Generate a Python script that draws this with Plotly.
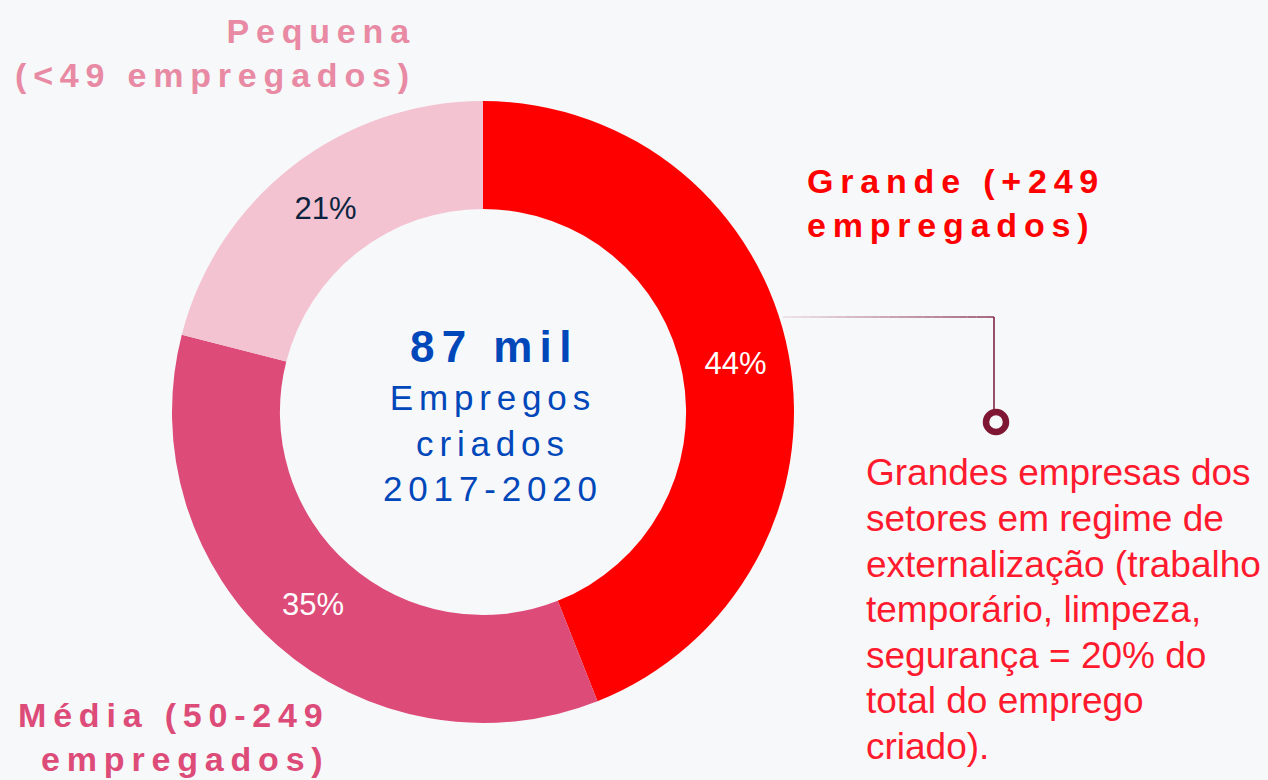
import plotly.graph_objects as go

# ---- data ----
categories = ["Grande (+249 empregados)", "Média (50-249 empregados)", "Pequena (<49 empregados)"]
shares = [44, 35, 21]
slice_colors = ["#FF0000", "#DD4B78", "#F3C3D1"]
pct_text_colors = ["#FFFFFF", "#FFFFFF", "#0C2340"]

center_big = "87 mil"
center_lines = ["Empregos", "criados", "2017-2020"]
label_grande = ["Grande (+249", "empregados)"]
label_media = ["Média (50-249", "empregados)"]
label_pequena = ["Pequena", "(<49 empregados)"]
note_lines = ["Grandes empresas dos", "setores em regime de", "externalização (trabalho",
              "temporário, limpeza,", "segurança = 20% do", "total do emprego", "criado)."]

W, H = 1268, 780
BG = "#F7F8FA"
FONT = "Liberation Sans, Arial, sans-serif"
THIN = "\u2009"
SIX = "\u2006"


def spaced(s, sp):
    return sp.join(list(s))


def px(x):
    return x / W


def py(y):
    return 1 - y / H


# donut geometry (pixels)
cx, cy, R = 483, 412, 311

fig = go.Figure(go.Pie(
    labels=categories,
    values=shares,
    hole=0.653,
    sort=False,
    direction="clockwise",
    rotation=0,
    marker=dict(colors=slice_colors, line=dict(width=0)),
    textinfo="percent",
    texttemplate="%{percent:.0%}",
    textposition="inside",
    insidetextorientation="horizontal",
    insidetextfont=dict(family=FONT, size=31, color=pct_text_colors),
    showlegend=False,
    domain=dict(x=[px(cx - R), px(cx + R)], y=[py(cy + R), py(cy - R)]),
    hoverinfo="label+percent",
))

ann = []
# center
ann.append(dict(x=px(490), y=py(346), xref="paper", yref="paper", showarrow=False,
                text="<b>" + spaced(center_big, SIX) + "</b>",
                font=dict(family=FONT, size=44, color="#0047BA"),
                xanchor="center", yanchor="middle"))
ann.append(dict(x=px(490), y=py(443), xref="paper", yref="paper", showarrow=False,
                text="<br>".join(spaced(t, SIX) for t in center_lines),
                font=dict(family=FONT, size=35, color="#0047BA"),
                xanchor="center", yanchor="middle", align="center"))
# category labels
ann.append(dict(x=px(412), y=py(53), xref="paper", yref="paper", showarrow=False,
                text="<b>" + "<br>".join(spaced(t, THIN) for t in label_pequena) + "</b>",
                font=dict(family=FONT, size=34, color="#E88AA3"),
                xanchor="right", yanchor="middle", align="right"))
ann.append(dict(x=px(805), y=py(203), xref="paper", yref="paper", showarrow=False,
                text="<b>" + "<br>".join(spaced(t, THIN) for t in label_grande) + "</b>",
                font=dict(family=FONT, size=34, color="#FF0000"),
                xanchor="left", yanchor="middle", align="left"))
ann.append(dict(x=px(325), y=py(737), xref="paper", yref="paper", showarrow=False,
                text="<b>" + "<br>".join(spaced(t, THIN) for t in label_media) + "</b>",
                font=dict(family=FONT, size=34, color="#DD4B78"),
                xanchor="right", yanchor="middle", align="right"))
# note, one annotation per line to keep the line pitch
for i, line in enumerate(note_lines):
    ann.append(dict(x=px(864), y=py(473 + 45.5 * i), xref="paper", yref="paper", showarrow=False,
                    text=line,
                    font=dict(family=FONT, size=37, color="#FF1A2E"),
                    xanchor="left", yanchor="middle", align="left"))

# connector: gradient horizontal line, vertical line, ring
shapes = []
x0, x1, yl = 783, 994, 317
c0, c1 = (236, 218, 225), (122, 24, 56)
n = 24
for i in range(n):
    t = (i + 0.5) / n
    col = "rgb(%d,%d,%d)" % tuple(round(a + (b - a) * t) for a, b in zip(c0, c1))
    shapes.append(dict(type="line", xref="paper", yref="paper",
                       x0=px(x0 + (x1 - x0) * i / n), x1=px(x0 + (x1 - x0) * (i + 1) / n),
                       y0=py(yl), y1=py(yl), line=dict(color=col, width=1.3)))
shapes.append(dict(type="line", xref="paper", yref="paper",
                   x0=px(x1), x1=px(x1), y0=py(yl), y1=py(410),
                   line=dict(color="#7A1838", width=1.5)))
rc, rcx, rcy = 10, 996, 422
shapes.append(dict(type="circle", xref="paper", yref="paper",
                   x0=px(rcx - rc), x1=px(rcx + rc), y0=py(rcy + rc), y1=py(rcy - rc),
                   line=dict(color="#7F1734", width=6.5), fillcolor=BG))

fig.update_layout(
    width=W, height=H,
    margin=dict(l=0, r=0, t=0, b=0),
    paper_bgcolor=BG, plot_bgcolor=BG,
    annotations=ann, shapes=shapes,
)

fig.write_html("out.html", config={"displayModeBar": False},
               post_script="document.body.style.margin='0';document.body.style.background='" + BG + "';")
